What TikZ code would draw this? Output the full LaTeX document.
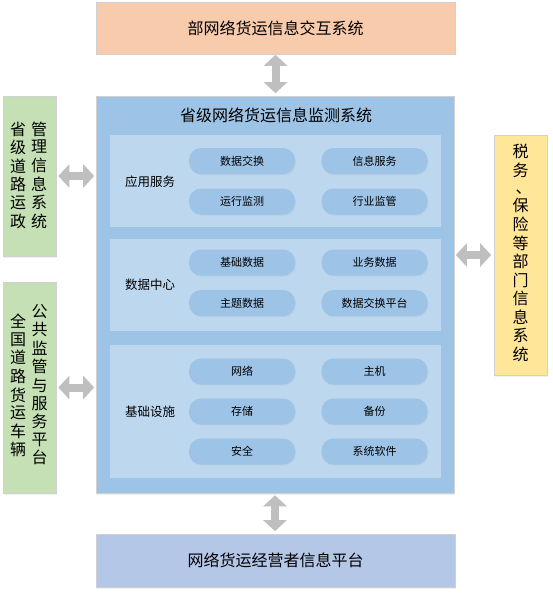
\documentclass[tikz,border=0pt]{standalone}
\usepackage{fontspec}
\setmainfont{Noto Sans CJK SC}
\usetikzlibrary{arrows.meta,shadows}
\definecolor{peach}{HTML}{F8CBAD}
\definecolor{leafgreen}{HTML}{C5E0B4}
\definecolor{mainblue}{HTML}{9DC3E6}
\definecolor{panelblue}{HTML}{BDD7EE}
\definecolor{sandyellow}{HTML}{FFE699}
\definecolor{botblue}{HTML}{B4C7E7}
\definecolor{arrowgray}{HTML}{BFBFBF}
\newcommand{\vstk}[1]{\begin{tabular}[c]{@{}c@{}}#1\end{tabular}}
\begin{document}
\begin{tikzpicture}[x=1pt,y=-1pt,
  box/.style={draw=black!18, line width=0.6pt, inner sep=0pt,
    drop shadow={opacity=0.12, shadow xshift=1pt, shadow yshift=-1.5pt}},
  panel/.style={fill=panelblue, inner sep=0pt, minimum width=331pt},
  pill/.style={fill=mainblue, rounded corners=12pt, inner sep=0pt,
    minimum width=106pt, minimum height=26pt,
    font=\fontsize{11}{13}\selectfont,
    drop shadow={opacity=0.10, shadow xshift=0.8pt, shadow yshift=-1.2pt}},
  lbl/.style={font=\fontsize{12.5}{15}\selectfont, inner sep=0pt},
  big/.style={font=\fontsize{16}{19}\selectfont},
  vtext/.style={font=\fontsize{16}{17}\selectfont, inner sep=0pt},
  biarrow/.style={draw=arrowgray, line width=8pt,
    {Triangle[width=23pt,length=11pt]}-{Triangle[width=23pt,length=11pt]}}
]
\useasboundingbox (0,0) rectangle (553,594);

% outer boxes
\node[box, fill=peach, minimum width=359pt, minimum height=52pt, big] (topbox) at (275.5,28) {部网络货运信息交互系统};
\node[box, fill=mainblue, minimum width=358pt, minimum height=397pt] (mainbox) at (275,294.5) {};
\node[box, fill=botblue, minimum width=359pt, minimum height=53pt, big] (botbox) at (275.5,560.5) {网络货运经营者信息平台};
\node[box, fill=leafgreen, minimum width=53pt, minimum height=160pt] (left1) at (29.5,176) {};
\node[box, fill=leafgreen, minimum width=53pt, minimum height=211pt] (left2) at (29.5,387.5) {};
\node[box, fill=sandyellow, minimum width=53pt, minimum height=240pt] (rightbox) at (520.5,255) {};

% vertical texts
\node[vtext] (l1a) at (18,177) {\vstk{省\\级\\道\\路\\运\\政}};
\node[vtext] (l1b) at (39,177) {\vstk{管\\理\\信\\息\\系\\统}};
\node[vtext] (l2a) at (18,387.5) {\vstk{全\\国\\道\\路\\货\\运\\车\\辆}};
\node[vtext] (l2b) at (39.5,386.5) {\vstk{公\\共\\监\\管\\与\\服\\务\\平\\台}};
\node[vtext] (rt) at (520.5,255) {\vstk{税\\务\\\hspace{0.4em}、\\保\\险\\等\\部\\门\\信\\息\\系\\统}};

% main title
\node[big, inner sep=0pt] (title) at (276,115) {省级网络货运信息监测系统};

% panels
\node[panel, minimum height=92pt] (p1) at (275.5,181) {};
\node[panel, minimum height=92pt] (p2) at (275.5,285) {};
\node[panel, minimum height=133pt] (p3) at (275.5,411.5) {};

\node[lbl] (l-app) at (150,182) {应用服务};
\node[lbl] (l-data) at (150,285) {数据中心};
\node[lbl] (l-infra) at (150,412) {基础设施};

% pills
\node[pill] (a1) at (242,161) {数据交换};
\node[pill] (a2) at (374.5,161) {信息服务};
\node[pill] (a3) at (242,201.5) {运行监测};
\node[pill] (a4) at (374.5,201.5) {行业监管};

\node[pill] (d1) at (242,262.5) {基础数据};
\node[pill] (d2) at (374.5,262.5) {业务数据};
\node[pill] (d3) at (242,303) {主题数据};
\node[pill] (d4) at (374.5,303) {数据交换平台};

\node[pill] (i1) at (242,371.5) {网络};
\node[pill] (i2) at (374.5,371.5) {主机};
\node[pill] (i3) at (242,411.5) {存储};
\node[pill] (i4) at (374.5,411.5) {备份};
\node[pill] (i5) at (242,451.5) {安全};
\node[pill] (i6) at (374.5,451.5) {系统软件};

% connectors
\draw[biarrow, shorten <=0.5pt, shorten >=2.5pt] (topbox.south) -- (topbox.south |- mainbox.north);
\draw[biarrow, shorten <=2pt, shorten >=2.5pt] (mainbox.south) -- (mainbox.south |- botbox.north);
\draw[biarrow, shorten <=2pt, shorten >=1.5pt] (left1.east) -- (left1.east -| mainbox.west);
\draw[biarrow, shorten <=2pt, shorten >=1.5pt] (left2.east) -- (left2.east -| mainbox.west);
\draw[biarrow, shorten <=2.5pt, shorten >=1.5pt] (rightbox.west) -- (rightbox.west -| mainbox.east);
\end{tikzpicture}
\end{document}
